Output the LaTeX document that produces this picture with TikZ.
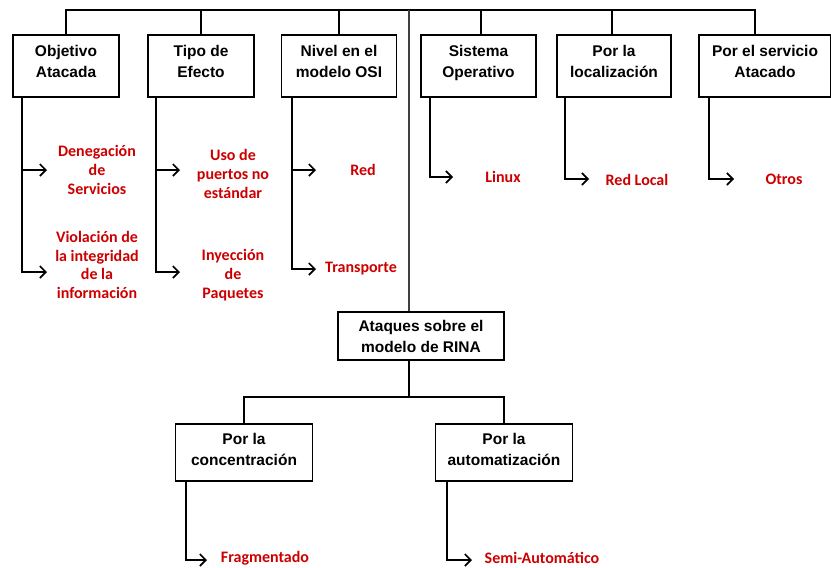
\documentclass[tikz,border=0pt]{standalone}
\usepackage{fontspec}
\setmainfont{Liberation Sans}
\newfontfamily\lblfont{Carlito}
\usetikzlibrary{arrows.meta}
\definecolor{lblred}{RGB}{204,0,0}
\begin{document}
\begin{tikzpicture}[x=1pt,y=-1pt,
  line/.style={draw=black,line width=1.6pt},
  mainline/.style={draw=black!75,line width=1.4pt},
  arr/.style={line,-{Straight Barb[length=6pt,width=12pt]}},
  box/.style={draw,line width=1.6pt,inner xsep=0pt,inner ysep=0pt,align=center,
    font=\bfseries\fontsize{15.5}{21}\selectfont,anchor=north},
  topbox/.style={box,text height=43pt,text depth=19pt},
  lbl/.style={text=lblred,align=center,inner sep=0pt,
    font=\lblfont\bfseries\fontsize{16}{18.7}\selectfont}]
\useasboundingbox (0,0) rectangle (831,568);

% top row boxes
\node[topbox,minimum width=106pt] (obj) at (66,34) {Objetivo\\Atacada};
\node[topbox,minimum width=106pt] (tip) at (201,34) {Tipo de\\Efecto};
\node[topbox,minimum width=115pt] (niv) at (339,34) {Nivel en el\\modelo OSI};
\node[topbox,minimum width=115pt] (sis) at (478.5,34) {Sistema\\Operativo};
\node[topbox,minimum width=114pt] (loc) at (614,34) {Por la\\localización};
\node[topbox,minimum width=132pt] (ser) at (765,34) {Por el servicio\\Atacado};

% central boxes
\node[box,minimum width=166pt,text height=41pt,text depth=7pt] (rina) at (421,311) {Ataques sobre el\\modelo de RINA};
\node[box,minimum width=137pt,text height=42pt,text depth=15pt] (con) at (244,423) {Por la\\concentración};
\node[box,minimum width=137pt,text height=42pt,text depth=15pt] (aut) at (504,423) {Por la\\automatización};

% red labels
\node[lbl] (den) at (97,170) {Denegación\\de\\Servicios};
\node[lbl] (vio) at (97,265) {Violación de\\la integridad\\de la\\información};
\node[lbl] (uso) at (233,174) {Uso de\\puertos no\\estándar};
\node[lbl] (iny) at (233,275) {Inyección\\de\\Paquetes};
\node[lbl] (red) at (363,170) {Red};
\node[lbl] (tra) at (361,269) {Transporte};
\node[lbl] (lin) at (503,177) {Linux};
\node[lbl] (rlo) at (637,180) {Red Local};
\node[lbl] (otr) at (784,179) {Otros};
\node[lbl] (fra) at (265,558) {Fragmentado};
\node[lbl] (sem) at (542,558) {Semi-Automático};

% top bus
\coordinate (top) at (409,10);
\coordinate (mid) at (409,397);
\draw[line] (obj.north) -- (obj.north |- top) -- ([xshift=-10pt]ser.north |- top) -- ([xshift=-10pt]ser.north);
\draw[line] (tip.north) -- (tip.north |- top);
\draw[line] (niv.north) -- (niv.north |- top);
\draw[line] ([xshift=2.5pt]sis.north) -- ([xshift=2.5pt]sis.north |- top);
\draw[line] ([xshift=-2pt]loc.north) -- ([xshift=-2pt]loc.north |- top);
\draw[mainline] (top) -- (top |- rina.north);

% lower tree
\draw[line] (top |- rina.south) -- (mid);
\draw[line] (con.north) -- (con.north |- mid) -- (aut.north |- mid) -- (aut.north);

% arrow tip coordinates
\coordinate (objA) at (47,170);
\coordinate (objB) at (47,272);
\coordinate (tipA) at (180,170);
\coordinate (tipB) at (180,272);
\coordinate (nivA) at (316,170);
\coordinate (nivB) at (316,269);
\coordinate (sisA) at (453,177);
\coordinate (locA) at (589,179);
\coordinate (serA) at (734,179);
\coordinate (conA) at (207,560);
\coordinate (autA) at (472,560);

\draw[arr] ([xshift=10pt]obj.south west) |- (objA);
\draw[arr] ([xshift=10pt]obj.south west) |- (objB);
\draw[arr] ([xshift=9pt]tip.south west) |- (tipA);
\draw[arr] ([xshift=9pt]tip.south west) |- (tipB);
\draw[arr] ([xshift=11.5pt]niv.south west) |- (nivA);
\draw[arr] ([xshift=11.5pt]niv.south west) |- (nivB);
\draw[arr] ([xshift=10pt]sis.south west) |- (sisA);
\draw[arr] ([xshift=9pt]loc.south west) |- (locA);
\draw[arr] ([xshift=11pt]ser.south west) |- (serA);
\draw[arr] ([xshift=11.5pt]con.south west) |- (conA);
\draw[arr] ([xshift=12.5pt]aut.south west) |- (autA);
\end{tikzpicture}
\end{document}
